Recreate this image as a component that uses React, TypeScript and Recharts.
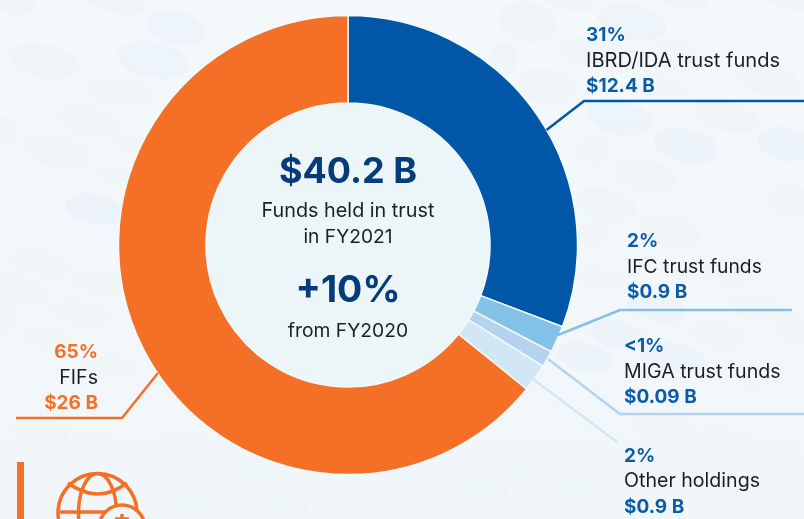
import React from "react";
import { PieChart, Pie, Cell } from "recharts";

const categories = ["IBRD/IDA trust funds", "IFC trust funds", "MIGA trust funds", "Other holdings", "FIFs"];
const arcShares = [30.8, 1.9, 1.15, 1.95, 64.2];
const colors = ["#0057a8", "#84c1e6", "#b5d3ef", "#d2e7f5", "#f47027"];
const percents = ["31%", "2%", "<1%", "2%", "65%"];
const amounts = ["$12.4 B", "$0.9 B", "$0.09 B", "$0.9 B", "$26 B"];

const pieData = categories.map((name, i) => ({ name, value: arcShares[i] }));

const FONT = "Inter, 'Noto Sans', sans-serif";
const G = "#eef5f8";
const F = "#f0f6f9";
const B = "#ebf3f9";

// decorative background blobs: cx, cy, rx, ry, fill
const blobs: [number, number, number, number, string][] = [
  [15, 2, 20, 13, G], [115, 2, 33, 11, G], [175, 28, 30, 17, B], [44, 61, 36, 17, G], [153, 60, 36, 18, B],
  [120, 92, 35, 17, F], [0, 130, 17, 14, G], [57, 152, 34, 16, G], [88, 120, 34, 17, F], [95, 209, 30, 15, B],
  [115, 175, 20, 13, F], [130, 143, 18, 12, F], [40, 263, 32, 14, F], [20, 290, 30, 13, G], [100, 283, 30, 14, F],
  [80, 313, 30, 14, F], [2, 318, 16, 12, G], [50, 340, 28, 11, F], [107, 363, 28, 11, F],
  [528, 22, 30, 20, G], [632, 22, 35, 18, B], [568, 2, 28, 8, G], [600, 55, 42, 16, G], [547, 87, 30, 18, G],
  [677, 55, 30, 16, F], [768, 80, 33, 16, G], [663, 87, 27, 14, F], [680, 0, 28, 8, G], [790, 2, 25, 8, G], [503, 60, 15, 18, G],
  [620, 118, 34, 17, B], [727, 117, 33, 15, G], [686, 146, 33, 17, B], [785, 144, 28, 17, B], [646, 176, 32, 16, G],
  [595, 150, 20, 16, F], [605, 204, 32, 16, G], [670, 232, 32, 15, G], [590, 233, 22, 13, F], [725, 270, 30, 15, F],
  [790, 200, 22, 15, G], [600, 278, 25, 12, F], [657, 308, 30, 13, B], [757, 308, 30, 14, F], [617, 335, 27, 14, B],
  [717, 335, 28, 14, F], [793, 330, 14, 14, G], [585, 357, 28, 14, B], [673, 358, 35, 15, B], [747, 373, 28, 13, F],
  [662, 425, 28, 12, F], [723, 443, 28, 12, F], [513, 468, 28, 12, G], [482, 487, 27, 12, G], [567, 485, 26, 12, G],
  [773, 462, 26, 12, F], [727, 487, 28, 12, F], [650, 467, 26, 12, F],
  [42, 430, 28, 12, G], [100, 450, 28, 11, F], [190, 447, 28, 12, G], [250, 468, 28, 12, G], [197, 507, 28, 12, G], [280, 503, 28, 12, G],
];

const Leader = ({ pts, color, w = 2.5 }: { pts: string; color: string; w?: number }) => (
  <polyline points={pts} fill="none" stroke={color} strokeWidth={w} />
);

const Label = ({ x, y, i, anchor = "start", color = "#0a5cab", nameSize = 19.6 }: { x: number; y: number; i: number; anchor?: "start" | "end"; color?: string; nameSize?: number }) => (
  <g textAnchor={anchor} fontFamily={FONT} fontSize={19}>
    <text x={x} y={y} fill={color} fontWeight={700}>{percents[i]}</text>
    <text x={x} y={y + 25.5} fill="#1c2024" fontWeight={400} fontSize={nameSize}>{categories[i]}</text>
    <text x={x} y={y + 51} fill={color} fontWeight={700}>{amounts[i]}</text>
  </g>
);

export default function App() {
  return (
    <div style={{ position: "absolute", left: 0, top: 0, width: 804, height: 519, overflow: "hidden", background: "linear-gradient(180deg,#f3f9fb,#f0f6f9)" }}>
      <svg width={804} height={519} style={{ position: "absolute", left: 0, top: 0 }}>
        <g opacity={0.75}>
          {blobs.map(([cx, cy, rx, ry, fill], i) => (
            <ellipse key={i} cx={cx} cy={cy} rx={rx} ry={ry} fill={fill} transform={`rotate(12 ${cx} ${cy})`} />
          ))}
        </g>
        <circle cx={348} cy={245} r={143} fill="#ecf5f8" />
      </svg>
      <div style={{ position: "absolute", left: 0, top: 0 }}>
        <PieChart width={804} height={519} margin={{ top: 0, right: 0, bottom: 0, left: 0 }}>
          <Pie
            data={pieData}
            dataKey="value"
            cx={348}
            cy={245}
            innerRadius={142}
            outerRadius={229.5}
            startAngle={90}
            endAngle={-270}
            stroke="#f2f8fb"
            strokeWidth={1.5}
            isAnimationActive={false}
            labelLine={false}
            label={false}
          >
            {pieData.map((d, i) => (
              <Cell key={d.name} fill={colors[i]} />
            ))}
          </Pie>
        </PieChart>
      </div>
      <svg width={804} height={519} style={{ position: "absolute", left: 0, top: 0 }}>
        <Leader pts="546.5,130 584,101 804,101" color={colors[0]} />
        <Leader pts="558,335 620,310 792,310" color={colors[1]} />
        <Leader pts="548,359 620,414 804,414" color={colors[2]} />
        <Leader pts="533,379 617,442" color={colors[3]} />
        <Leader pts="158,373 122,418 16,418" color={colors[4]} />

        <Label x={586} y={41} i={0} nameSize={20.1} />
        <Label x={627} y={247} i={1} nameSize={19.3} />
        <Label x={624} y={352} i={2} />
        <Label x={624} y={461.5} i={3} />
        <Label x={98} y={358} i={4} anchor="end" color="#f47027" />

        <g textAnchor="middle" fontFamily={FONT}>
          <text x={348} y={183} fontSize={36} fontWeight={700} fill="#063c7a">$40.2 B</text>
          <text x={348} y={217} fontSize={19.8} fill="#1c2024">Funds held in trust</text>
          <text x={348} y={243} fontSize={19.2} fill="#1c2024">in FY2021</text>
          <text x={348} y={302} fontSize={37.5} fontWeight={700} fill="#063c7a">+10%</text>
          <text x={348} y={337} fontSize={19.3} fill="#1c2024">from FY2020</text>
        </g>

        <rect x={17} y={462} width={7} height={57} fill="#f47027" />
        <g fill="none" stroke="#f47027" strokeWidth={3.5}>
          <circle cx={97.5} cy={513} r={39.5} />
          <ellipse cx={97.5} cy={513} rx={19} ry={39.5} />
          <path d="M68 483 Q98 505 127 483" />
          <path d="M60 512 L136 512" />
          <circle cx={122} cy={528} r={23} fill="#eff6f9" />
          <path d="M122 514 V526 M115 519 H129" />
        </g>
      </svg>
    </div>
  );
}
